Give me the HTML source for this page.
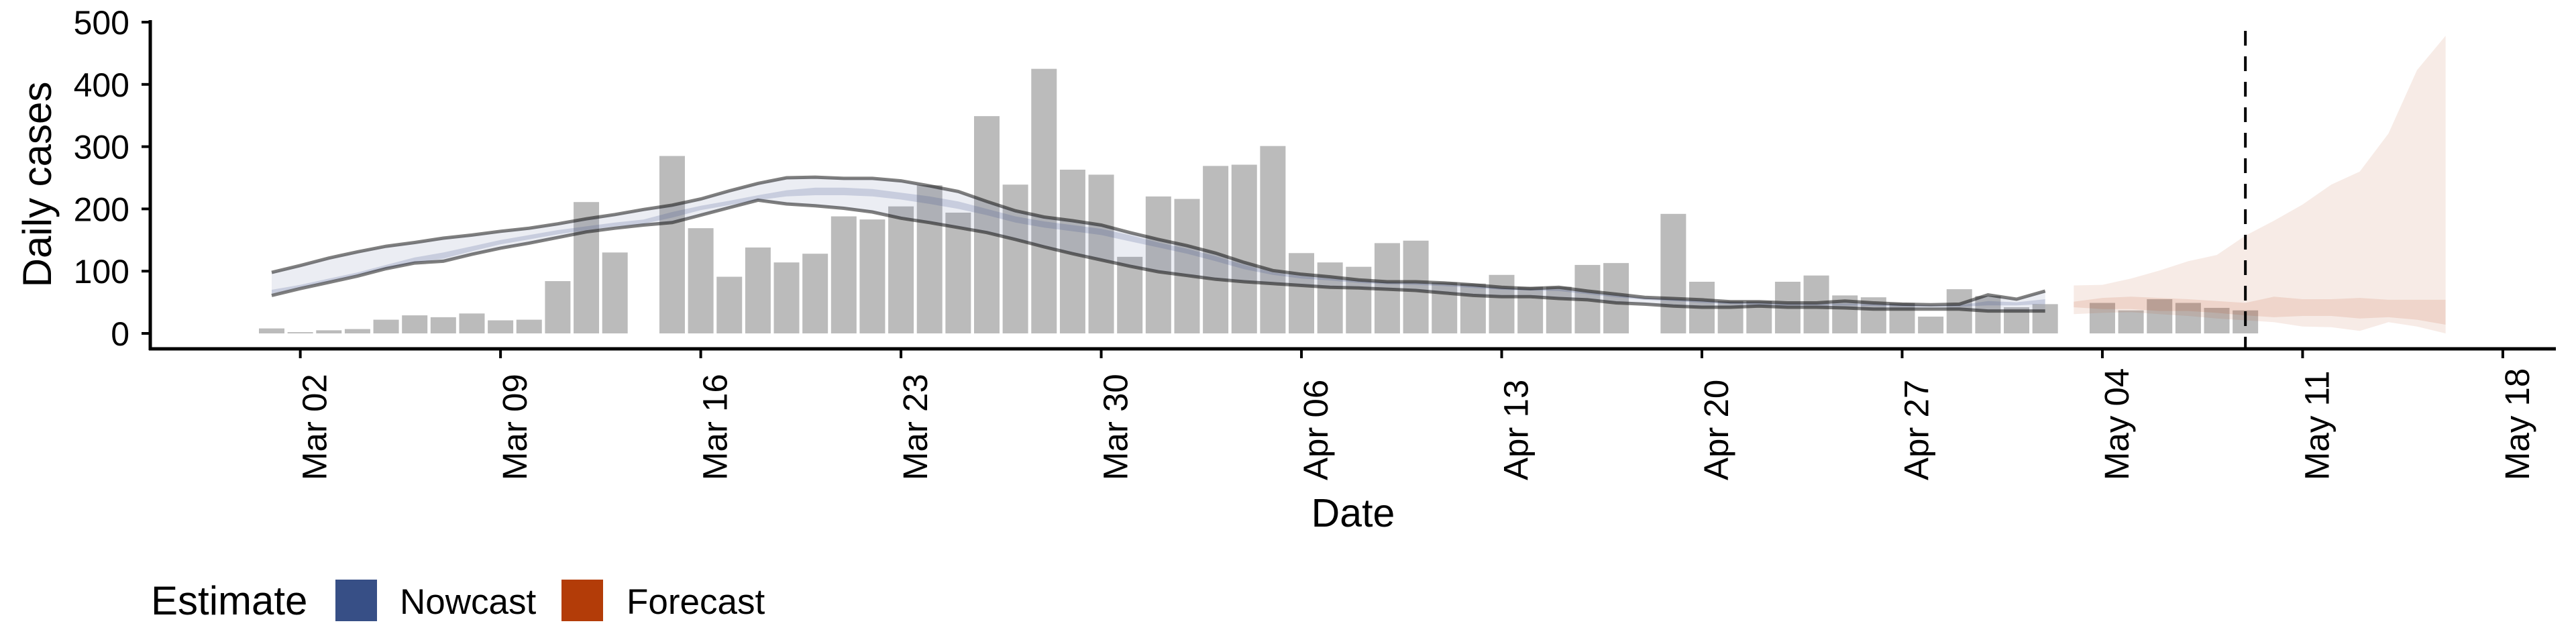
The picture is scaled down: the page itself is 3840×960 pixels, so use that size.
<!DOCTYPE html>
<html><head><meta charset="utf-8"><style>
html,body{margin:0;padding:0;background:#fff;}
svg{display:block;font-family:"Liberation Sans",Arial,sans-serif;}
</style></head><body>
<svg id="chart" width="3840" height="960" viewBox="0 0 3840 960" xmlns="http://www.w3.org/2000/svg">
<g id="bands"></g>
<g id="bars"></g>
<g id="overlay"></g>
<g id="axes"></g>
<text x="2017" y="785" font-size="59" text-anchor="middle">Date</text>
<text transform="translate(76,275) rotate(-90)" font-size="60" text-anchor="middle">Daily cases</text>
<g>
<text x="225" y="916" font-size="60">Estimate</text>
<rect x="500" y="864" width="62" height="62" fill="#374f86"/>
<text x="596" y="915" font-size="53">Nowcast</text>
<rect x="837" y="864" width="62" height="62" fill="#b33c08"/>
<text x="934" y="915" font-size="53">Forecast</text>
</g>
</svg>
<script>
// Reported daily cases, Mar 01 .. May 09 (null = missing)
const caseValues = [8,2,5,7,22,29,26,32,21,22,84,211,130,null,285,169,91,138,114,128,188,183,
204,238,194,349,239,425,263,255,123,220,216,269,271,301,129,114,107,145,149,82,80,94,75,75,110,113,null,192,83,52,
52,83,93,61,58,49,27,71,60,42,47,null,49,37,55,49,41,37];
// Nowcast (Mar 01 .. May 02)
const nowUpper = [98,109,121,131,140,146,153,158,164,169,176,184,191,199,206,216,229,241,250,251,249,
249,245,237,228,212,197,187,181,174,162,151,141,129,114,101,95,91,86,83,83,81,78,74,72,74,68,63,58,56,54,51,
51,49,49,52,49,47,46,47,62,55,68];
const nowLower = [61,72,82,92,104,113,116,127,137,145,154,163,169,174,178,190,202,214,208,205,201,
195,185,178,170,162,151,139,128,118,108,99,93,87,83,80,77,74,73,71,69,65,61,59,59,56,54,49,47,44,42,42,
44,42,42,41,39,39,39,39,36,36,36];
const nowInnerHi = [70,78,88,98,110,122,130,140,150,158,166,172,178,183,195,205,213,222,230,234,234,
232,226,220,212,200,188,180,174,168,158,146,136,124,110,98,92,88,84,82,81,79,76,73,71,71,66,61,57,55,52,50,
49,47,47,48,47,46,45,45,52,50,55];
const nowInnerLo = [64,74,84,94,104,114,120,132,143,151,159,166,172,176,186,198,206,214,220,222,222,
220,215,208,200,190,178,170,164,158,148,138,128,116,103,94,88,85,81,79,78,76,73,70,69,68,63,58,54,52,49,47,
46,45,45,45,44,43,43,43,45,45,47];
// Forecast (May 03 .. May 16)
const foreUpper = [77,78,88,101,116,126,157,181,207,239,260,321,423,478];
const foreLower = [31,33,34,31,28,24,21,18,11,10,4,18,11,0];
const foreInnerHi = [51,57,59,57,55,52,49,59,55,55,57,54,54,54];
const foreInnerLo = [42,39,39,36,36,33,29,26,28,28,24,26,22,14];
const yTicks = [0,100,200,300,400,500];
const xTickLabels = ["Mar 02","Mar 09","Mar 16","Mar 23","Mar 30","Apr 06","Apr 13","Apr 20","Apr 27","May 04","May 11","May 18"];
const forecastDateIdx = 69; // May 09 (days from Mar 01)

const NS="http://www.w3.org/2000/svg";
const X0=405, DAY=42.64; // x of Mar 01, px per day
const Y0=497, YPX=0.928;
const xs=d=>X0+d*DAY;
const ys=v=>Y0-v*YPX;
function mk(tag,parent,attrs){const e=document.createElementNS(NS,tag);for(const k in attrs)e.setAttribute(k,attrs[k]);parent.appendChild(e);return e;}
const bands=document.getElementById('bands'),bars=document.getElementById('bars'),ov=document.getElementById('overlay'),axes=document.getElementById('axes');

function bandPath(hi,lo,start){
  let p='';
  hi.forEach((v,i)=>{p+=(i?'L':'M')+xs(start+i).toFixed(1)+','+ys(v).toFixed(1);});
  for(let i=lo.length-1;i>=0;i--)p+='L'+xs(start+i).toFixed(1)+','+ys(lo[i]).toFixed(1);
  return p+'Z';
}
function linePath(arr,start){return arr.map((v,i)=>(i?'L':'M')+xs(start+i).toFixed(1)+','+ys(v).toFixed(1)).join('');}

caseValues.forEach((v,i)=>{
  if(v===null)return;
  const r=mk('rect',bars,{x:xs(i)-19,y:ys(v),width:38,height:v*YPX,fill:'#bbbbbb'});
  
  
});

let e;
e=mk('path',ov,{d:bandPath(nowUpper,nowLower,0),fill:'rgb(59,79,138)','fill-opacity':0.1});


e=mk('path',ov,{d:bandPath(nowInnerHi,nowInnerLo,0),fill:'rgb(59,79,138)','fill-opacity':0.2});


e=mk('path',ov,{d:bandPath(foreUpper,foreLower,63),fill:'rgb(179,58,12)','fill-opacity':0.1});


e=mk('path',ov,{d:bandPath(foreInnerHi,foreInnerLo,63),fill:'rgb(179,58,12)','fill-opacity':0.12});


e=mk('path',ov,{d:linePath(nowUpper,0),fill:'none',stroke:'#000','stroke-opacity':0.5,'stroke-width':5});


e=mk('path',ov,{d:linePath(nowLower,0),fill:'none',stroke:'#000','stroke-opacity':0.5,'stroke-width':5});


e=mk('line',ov,{x1:xs(forecastDateIdx),x2:xs(forecastDateIdx),y1:46,y2:519,stroke:'#000','stroke-width':4,'stroke-dasharray':'22 16'});



// axes
e=mk('line',axes,{x1:224,x2:224,y1:30,y2:522,stroke:'#000','stroke-width':5});


e=mk('line',axes,{x1:222,x2:3810,y1:520,y2:520,stroke:'#000','stroke-width':5});


yTicks.forEach(v=>{
  const t=mk('line',axes,{x1:211,x2:224,y1:ys(v),y2:ys(v),stroke:'#000','stroke-width':4});
  
  
  const l=mk('text',axes,{x:193,y:ys(v)+18,'font-size':50,'text-anchor':'end'});
  l.textContent=v;
  
  
});
xTickLabels.forEach((s,i)=>{
  const x=xs(1+7*i);
  const t=mk('line',axes,{x1:x,x2:x,y1:520,y2:534,stroke:'#000','stroke-width':4});
  
  
  const l=mk('text',axes,{transform:`translate(${x+39},716) rotate(-90)`,'font-size':51,'text-anchor':'start'});
  l.textContent=s;
  
  
});
</script>
</body></html>
